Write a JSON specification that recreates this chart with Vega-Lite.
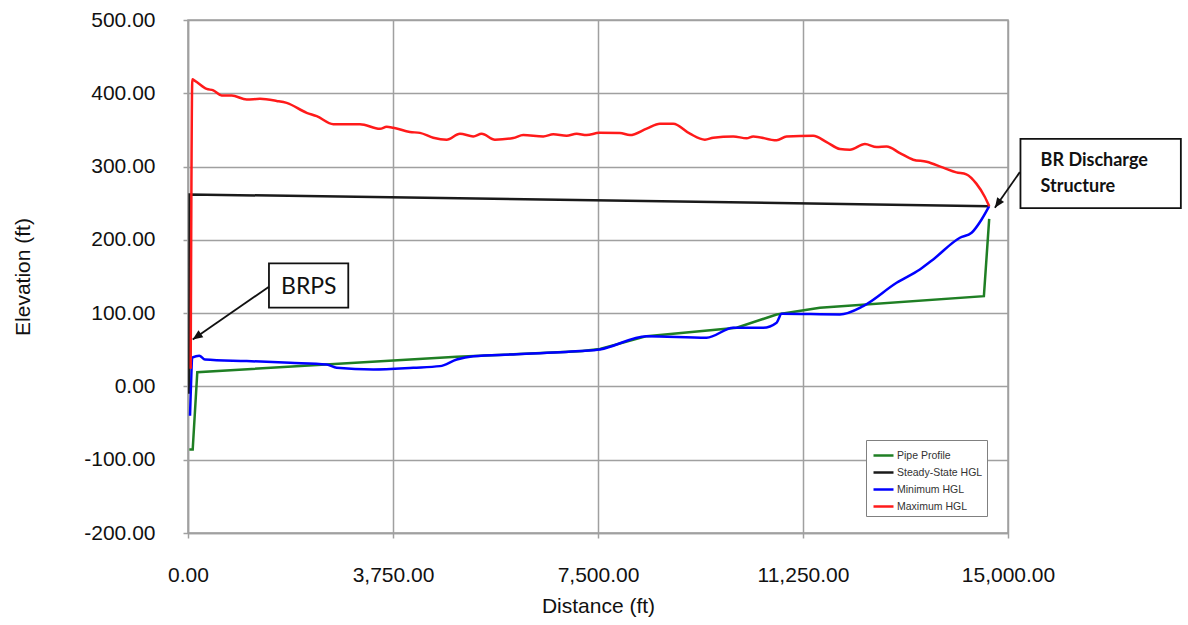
{
  "$schema": "https://vega.github.io/schema/vega-lite/v6.json",
  "width": 820,
  "height": 513,
  "autosize": {"type": "none"},
  "padding": {"left": 188, "top": 20, "right": 180, "bottom": 92},
  "background": "white",
  "config": {
    "locale": {"number": {"decimal": ".", "thousands": ",", "grouping": [3], "currency": ["$", ""], "minus": "-"}},
    "view": {"stroke": "#a0a0a0", "strokeWidth": 1.5},
    "font": "Liberation Sans",
    "axis": {
      "gridColor": "#a0a0a0", "gridWidth": 1.5, "gridOpacity": 1,
      "domainColor": "#a0a0a0", "domainWidth": 1.5,
      "tickColor": "#a0a0a0", "tickWidth": 1.5, "tickSize": 5,
      "labelFont": "Liberation Sans", "labelFontSize": 21, "labelColor": "#111111",
      "titleFont": "Liberation Sans", "titleFontSize": 21, "titleFontWeight": "normal", "titleColor": "#111111"
    }
  },
  "datasets": {
    "series": [
      {"s": "Pipe Profile", "d": 24, "e": -86},
      {"s": "Pipe Profile", "d": 86, "e": -86},
      {"s": "Pipe Profile", "d": 170, "e": 19.5},
      {"s": "Pipe Profile", "d": 4915, "e": 40.4},
      {"s": "Pipe Profile", "d": 7170, "e": 48},
      {"s": "Pipe Profile", "d": 7535, "e": 51},
      {"s": "Pipe Profile", "d": 8390, "e": 68.6},
      {"s": "Pipe Profile", "d": 10036, "e": 80},
      {"s": "Pipe Profile", "d": 10767, "e": 98.2},
      {"s": "Pipe Profile", "d": 11559, "e": 107.3},
      {"s": "Pipe Profile", "d": 14559, "e": 123.2},
      {"s": "Pipe Profile", "d": 14656, "e": 228.6},
      {"s": "Steady-State HGL", "d": 24, "e": -10},
      {"s": "Steady-State HGL", "d": 30, "e": 262},
      {"s": "Steady-State HGL", "d": 14656, "e": 246},
      {"s": "Minimum HGL", "d": 37, "e": -40},
      {"s": "Minimum HGL", "d": 86, "e": 39.6},
      {"s": "Minimum HGL", "d": 207, "e": 42},
      {"s": "Minimum HGL", "d": 311, "e": 36.8},
      {"s": "Minimum HGL", "d": 1074, "e": 34.6},
      {"s": "Minimum HGL", "d": 1866, "e": 32.3},
      {"s": "Minimum HGL", "d": 2537, "e": 30},
      {"s": "Minimum HGL", "d": 2720, "e": 25.5},
      {"s": "Minimum HGL", "d": 3389, "e": 23.2},
      {"s": "Minimum HGL", "d": 4121, "e": 25.5},
      {"s": "Minimum HGL", "d": 4609, "e": 27.7},
      {"s": "Minimum HGL", "d": 4915, "e": 36.8},
      {"s": "Minimum HGL", "d": 5218, "e": 41.3},
      {"s": "Minimum HGL", "d": 5950, "e": 43.7},
      {"s": "Minimum HGL", "d": 7170, "e": 48.2},
      {"s": "Minimum HGL", "d": 7535, "e": 50.5},
      {"s": "Minimum HGL", "d": 8390, "e": 68.6},
      {"s": "Minimum HGL", "d": 9487, "e": 66.4},
      {"s": "Minimum HGL", "d": 9974, "e": 80},
      {"s": "Minimum HGL", "d": 10522, "e": 80},
      {"s": "Minimum HGL", "d": 10767, "e": 86.9},
      {"s": "Minimum HGL", "d": 10859, "e": 99.2},
      {"s": "Minimum HGL", "d": 11925, "e": 98.2},
      {"s": "Minimum HGL", "d": 12351, "e": 109.6},
      {"s": "Minimum HGL", "d": 12962, "e": 141.4},
      {"s": "Minimum HGL", "d": 13388, "e": 159.6},
      {"s": "Minimum HGL", "d": 13632, "e": 173.3},
      {"s": "Minimum HGL", "d": 14120, "e": 202.9},
      {"s": "Minimum HGL", "d": 14334, "e": 209.7},
      {"s": "Minimum HGL", "d": 14517, "e": 227.8},
      {"s": "Minimum HGL", "d": 14656, "e": 246},
      {"s": "Maximum HGL", "d": 49, "e": 24},
      {"s": "Maximum HGL", "d": 79, "e": 419},
      {"s": "Maximum HGL", "d": 128, "e": 417},
      {"s": "Maximum HGL", "d": 342, "e": 406},
      {"s": "Maximum HGL", "d": 463, "e": 404},
      {"s": "Maximum HGL", "d": 616, "e": 397},
      {"s": "Maximum HGL", "d": 799, "e": 397},
      {"s": "Maximum HGL", "d": 1074, "e": 391.5},
      {"s": "Maximum HGL", "d": 1317, "e": 392.4},
      {"s": "Maximum HGL", "d": 1622, "e": 389.6},
      {"s": "Maximum HGL", "d": 1805, "e": 386.9},
      {"s": "Maximum HGL", "d": 2171, "e": 373.3},
      {"s": "Maximum HGL", "d": 2354, "e": 368.8},
      {"s": "Maximum HGL", "d": 2658, "e": 357.9},
      {"s": "Maximum HGL", "d": 3146, "e": 357.9},
      {"s": "Maximum HGL", "d": 3512, "e": 351.5},
      {"s": "Maximum HGL", "d": 3634, "e": 354.3},
      {"s": "Maximum HGL", "d": 3755, "e": 353},
      {"s": "Maximum HGL", "d": 4060, "e": 347.2},
      {"s": "Maximum HGL", "d": 4243, "e": 346},
      {"s": "Maximum HGL", "d": 4487, "e": 339.4},
      {"s": "Maximum HGL", "d": 4732, "e": 336.7},
      {"s": "Maximum HGL", "d": 4975, "e": 344.8},
      {"s": "Maximum HGL", "d": 5218, "e": 341.2},
      {"s": "Maximum HGL", "d": 5372, "e": 344.8},
      {"s": "Maximum HGL", "d": 5615, "e": 336.7},
      {"s": "Maximum HGL", "d": 5950, "e": 338.9},
      {"s": "Maximum HGL", "d": 6133, "e": 343},
      {"s": "Maximum HGL", "d": 6499, "e": 341.2},
      {"s": "Maximum HGL", "d": 6682, "e": 344},
      {"s": "Maximum HGL", "d": 6926, "e": 342.2},
      {"s": "Maximum HGL", "d": 7109, "e": 344.8},
      {"s": "Maximum HGL", "d": 7292, "e": 343},
      {"s": "Maximum HGL", "d": 7523, "e": 346},
      {"s": "Maximum HGL", "d": 7901, "e": 345.7},
      {"s": "Maximum HGL", "d": 8084, "e": 343},
      {"s": "Maximum HGL", "d": 8390, "e": 351.7},
      {"s": "Maximum HGL", "d": 8633, "e": 358.5},
      {"s": "Maximum HGL", "d": 8876, "e": 358.5},
      {"s": "Maximum HGL", "d": 9182, "e": 344.8},
      {"s": "Maximum HGL", "d": 9456, "e": 336.7},
      {"s": "Maximum HGL", "d": 9608, "e": 339.4},
      {"s": "Maximum HGL", "d": 9974, "e": 341.2},
      {"s": "Maximum HGL", "d": 10219, "e": 338.5},
      {"s": "Maximum HGL", "d": 10339, "e": 341.2},
      {"s": "Maximum HGL", "d": 10767, "e": 335.8},
      {"s": "Maximum HGL", "d": 10950, "e": 341.2},
      {"s": "Maximum HGL", "d": 11437, "e": 342.1},
      {"s": "Maximum HGL", "d": 11682, "e": 333.4},
      {"s": "Maximum HGL", "d": 11925, "e": 323.9},
      {"s": "Maximum HGL", "d": 12108, "e": 323},
      {"s": "Maximum HGL", "d": 12383, "e": 330.7},
      {"s": "Maximum HGL", "d": 12597, "e": 326.6},
      {"s": "Maximum HGL", "d": 12779, "e": 327.5},
      {"s": "Maximum HGL", "d": 13023, "e": 318.4},
      {"s": "Maximum HGL", "d": 13266, "e": 309.4},
      {"s": "Maximum HGL", "d": 13511, "e": 306.6},
      {"s": "Maximum HGL", "d": 13815, "e": 298.5},
      {"s": "Maximum HGL", "d": 14055, "e": 292.1},
      {"s": "Maximum HGL", "d": 14238, "e": 289.4},
      {"s": "Maximum HGL", "d": 14421, "e": 276.7},
      {"s": "Maximum HGL", "d": 14577, "e": 258.5},
      {"s": "Maximum HGL", "d": 14656, "e": 246}
    ],
    "boxes": [
      {"name": "BRPS", "d": 1481, "d2": 2932, "e": 167.8, "e2": 107.4},
      {"name": "BRDS", "d": 15228, "d2": 18162, "e": 337.9, "e2": 243.3}
    ],
    "arrows": [
      {"name": "BRPS", "d": 1481, "e": 136, "d2": 86, "e2": 64.1},
      {"name": "BRDS", "d": 15217, "e": 292.4, "d2": 14760, "e2": 243.8}
    ],
    "labels": [
      {"name": "BRPS", "text": "BRPS", "d": 2210, "e": 125.5},
      {"name": "BRDS", "text": "BR Discharge", "d": 15596, "e": 300.1},
      {"name": "BRDS", "text": "Structure", "d": 15596, "e": 264.7}
    ]
  },
  "layer": [
    {
      "data": {"name": "series"},
      "transform": [{"filter": "datum.s == 'Pipe Profile' || datum.s == 'Steady-State HGL'"}],
      "mark": {"type": "line", "strokeWidth": 2.5, "clip": false},
      "encoding": {
        "x": {
          "field": "d", "type": "quantitative", "title": "Distance (ft)",
          "scale": {"domain": [0, 15000], "nice": false, "zero": false},
          "axis": {"values": [0, 3750, 7500, 11250, 15000], "format": ",.2f", "labelPadding": 26, "titlePadding": 10, "labelFlush": false}
        },
        "y": {
          "field": "e", "type": "quantitative", "title": "Elevation (ft)",
          "scale": {"domain": [-200, 500], "nice": false, "zero": false},
          "axis": {"values": [-200, -100, 0, 100, 200, 300, 400, 500], "format": ".2f", "labelPadding": 28, "titlePadding": 50, "labelFlush": false}
        },
        "color": {
          "field": "s", "type": "nominal",
          "scale": {
            "domain": ["Pipe Profile", "Steady-State HGL", "Minimum HGL", "Maximum HGL"],
            "range": ["#1f7f24", "#1a1a1a", "#0000ff", "#ff1a1a"]
          },
          "legend": {
            "title": null, "orient": "none", "legendX": 678, "legendY": 420,
            "symbolType": "stroke", "symbolSize": 400, "symbolStrokeWidth": 2.5,
            "labelFont": "Liberation Sans", "labelFontSize": 10.5, "labelColor": "#333333",
            "rowPadding": 0, "padding": 4, "symbolOffset": 2, "labelOffset": 2,
            "strokeColor": "#808080", "fillColor": "white"
          }
        }
      }
    },
    {
      "data": {"name": "series"},
      "transform": [{"filter": "datum.s == 'Minimum HGL' || datum.s == 'Maximum HGL'"}],
      "mark": {"type": "line", "strokeWidth": 2.5, "clip": false, "interpolate": "monotone"},
      "encoding": {
        "x": {"field": "d", "type": "quantitative", "title": "Distance (ft)", "scale": {"domain": [0, 15000], "nice": false, "zero": false}},
        "y": {"field": "e", "type": "quantitative", "title": "Elevation (ft)", "scale": {"domain": [-200, 500], "nice": false, "zero": false}},
        "color": {
          "field": "s", "type": "nominal",
          "scale": {
            "domain": ["Pipe Profile", "Steady-State HGL", "Minimum HGL", "Maximum HGL"],
            "range": ["#1f7f24", "#1a1a1a", "#0000ff", "#ff1a1a"]
          }
        }
      }
    },
    {
      "data": {"name": "boxes"},
      "mark": {"type": "rect", "fill": "white", "stroke": "#111111", "strokeWidth": 1.8, "clip": false},
      "encoding": {
        "x": {"field": "d", "type": "quantitative", "title": "Distance (ft)", "scale": {"domain": [0, 15000], "nice": false, "zero": false}},
        "x2": {"field": "d2"},
        "y": {"field": "e", "type": "quantitative", "title": "Elevation (ft)", "scale": {"domain": [-200, 500], "nice": false, "zero": false}},
        "y2": {"field": "e2"}
      }
    },
    {
      "data": {"name": "arrows"},
      "mark": {"type": "rule", "stroke": "#111111", "strokeWidth": 1.8, "clip": false},
      "encoding": {
        "x": {"field": "d", "type": "quantitative", "title": "Distance (ft)", "scale": {"domain": [0, 15000], "nice": false, "zero": false}},
        "x2": {"field": "d2"},
        "y": {"field": "e", "type": "quantitative", "title": "Elevation (ft)", "scale": {"domain": [-200, 500], "nice": false, "zero": false}},
        "y2": {"field": "e2"}
      }
    },
    {
      "data": {"name": "arrows"},
      "transform": [{"filter": "datum.name == 'BRPS'"}],
      "mark": {"type": "point", "shape": "M0,0L-1,-0.42L-1,0.42Z", "filled": true, "color": "#111111", "opacity": 1, "size": 400, "angle": 145, "clip": false},
      "encoding": {
        "x": {"field": "d2", "type": "quantitative", "title": "Distance (ft)", "scale": {"domain": [0, 15000], "nice": false, "zero": false}},
        "y": {"field": "e2", "type": "quantitative", "title": "Elevation (ft)", "scale": {"domain": [-200, 500], "nice": false, "zero": false}}
      }
    },
    {
      "data": {"name": "arrows"},
      "transform": [{"filter": "datum.name == 'BRDS'"}],
      "mark": {"type": "point", "shape": "M0,0L-1,-0.42L-1,0.42Z", "filled": true, "color": "#111111", "opacity": 1, "size": 400, "angle": 125, "clip": false},
      "encoding": {
        "x": {"field": "d2", "type": "quantitative", "title": "Distance (ft)", "scale": {"domain": [0, 15000], "nice": false, "zero": false}},
        "y": {"field": "e2", "type": "quantitative", "title": "Elevation (ft)", "scale": {"domain": [-200, 500], "nice": false, "zero": false}}
      }
    },
    {
      "data": {"name": "labels"},
      "transform": [{"filter": "datum.name == 'BRPS'"}],
      "mark": {"type": "text", "font": "Lato", "fontSize": 23, "align": "center", "baseline": "alphabetic", "color": "#111111", "clip": false},
      "encoding": {
        "x": {"field": "d", "type": "quantitative", "title": "Distance (ft)", "scale": {"domain": [0, 15000], "nice": false, "zero": false}},
        "y": {"field": "e", "type": "quantitative", "title": "Elevation (ft)", "scale": {"domain": [-200, 500], "nice": false, "zero": false}},
        "text": {"field": "text"}
      }
    },
    {
      "data": {"name": "labels"},
      "transform": [{"filter": "datum.name == 'BRDS'"}],
      "mark": {"type": "text", "font": "Lato", "fontSize": 18, "fontWeight": "bold", "align": "left", "baseline": "alphabetic", "color": "#111111", "clip": false},
      "encoding": {
        "x": {"field": "d", "type": "quantitative", "title": "Distance (ft)", "scale": {"domain": [0, 15000], "nice": false, "zero": false}},
        "y": {"field": "e", "type": "quantitative", "title": "Elevation (ft)", "scale": {"domain": [-200, 500], "nice": false, "zero": false}},
        "text": {"field": "text"}
      }
    }
  ]
}
